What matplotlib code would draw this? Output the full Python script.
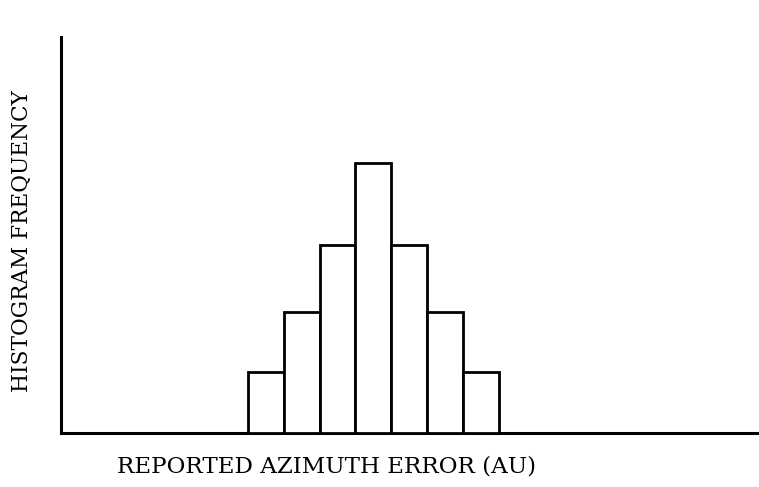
import matplotlib
matplotlib.use("Agg")
import matplotlib.pyplot as plt

# histogram of reported azimuth error, one bin per AU step
error_bins = [-3, -2, -1, 0, 1, 2, 3]
frequency = [6.1, 12.1, 18.8, 27.0, 18.8, 12.1, 6.1]

x_label = "REPORTED AZIMUTH ERROR (AU)"
y_label = "HISTOGRAM FREQUENCY"

fig = plt.figure(figsize=(7.59, 4.87), dpi=100)
ax = fig.add_axes([61 / 759, 54 / 487, (757 - 61) / 759, (433 - 37) / 487])

ax.bar(error_bins, frequency, width=1.0, color="white", edgecolor="black",
       linewidth=2.0, zorder=3)

ax.set_xlim(-8.71, 10.7)
ax.set_ylim(0, 39.6)
ax.set_xticks([])
ax.set_yticks([])
for side in ["top", "right"]:
    ax.spines[side].set_visible(False)
for side in ["left", "bottom"]:
    ax.spines[side].set_linewidth(2.2)

fig.text(327 / 759, 1 - 467 / 487, x_label, ha="center", va="center",
         family="DejaVu Serif", size=16.6)
fig.text(22 / 759, 1 - 241 / 487, y_label, ha="center", va="center",
         rotation=90, family="DejaVu Serif", size=15.6)

fig.savefig("out.png", dpi=100)
